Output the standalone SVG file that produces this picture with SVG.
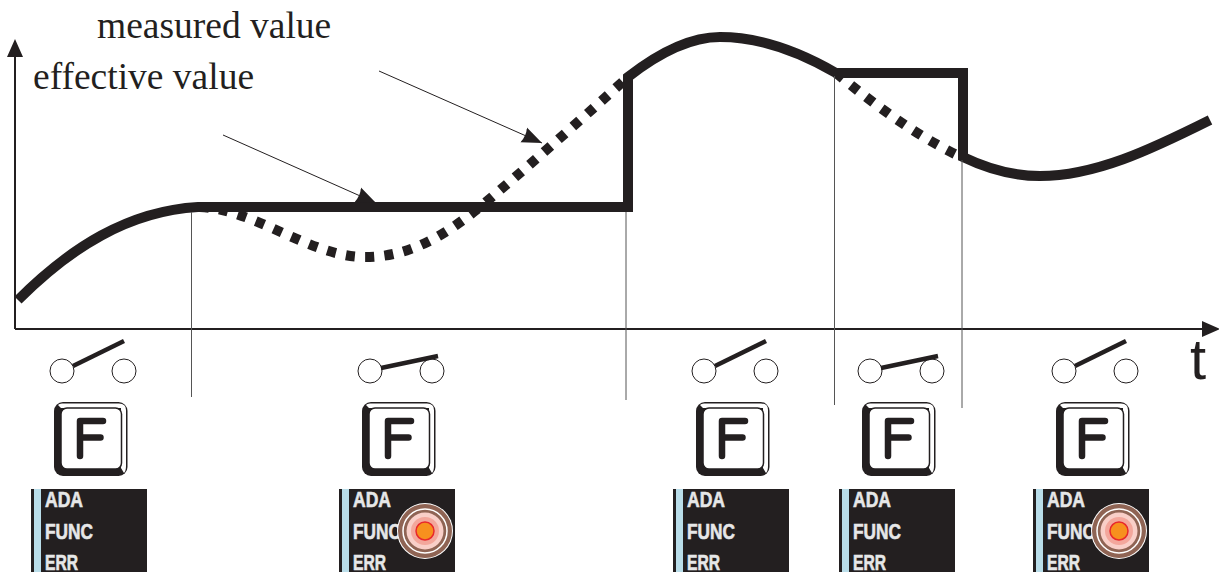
<svg xmlns="http://www.w3.org/2000/svg" xmlns:xlink="http://www.w3.org/1999/xlink" width="1219" height="572" viewBox="0 0 1219 572">
<style>
.lbl{font-family:"Liberation Serif","Times New Roman",serif;font-size:37.500px;fill:#231f20}
.tt{font-family:"Liberation Sans",Arial,sans-serif;font-size:58px;fill:#231f20}
.pt{font-family:"Liberation Sans",Arial,sans-serif;font-size:22px;font-weight:bold;fill:#e6e7e8;stroke:#e6e7e8;stroke-width:.6}
.thick{fill:none;stroke:#231f20;stroke-width:10}
.dot{fill:none;stroke:#231f20;stroke-width:10;stroke-dasharray:9 10.300}
.thin{fill:none;stroke:#231f20;stroke-width:1}
.guide{fill:none;stroke:#555;stroke-width:1}
.axis{fill:none;stroke:#231f20;stroke-width:2}
.c{fill:#fff;stroke:#231f20;stroke-width:1}
.lev{stroke:#231f20;stroke-width:4.500;fill:none}
</style>
<defs>
<marker id="ah" markerUnits="userSpaceOnUse" markerWidth="22" markerHeight="18" refX="20" refY="9" orient="auto"><path d="M0 1 L20 9 L0 17 Q3 9 0 1Z" fill="#231f20"/></marker>
<g id="key">
<rect x="54" y="402" width="73.500" height="74" rx="9" fill="#231f20"/>
<path d="M58 405 L61 408 H121 V468 L124 473 Q126 471 126 466 L126 410 Q126 403.500 119 403.500 L62 403.500 Q59 403.500 58 405Z" fill="#fff"/>
<rect x="61" y="408" width="60.500" height="61" rx="6" fill="#fff" stroke="#231f20" stroke-width="1.500"/>
<path d="M80 456 V421 H103 M80 437.500 H100.500" fill="none" stroke="#231f20" stroke-width="6.500" stroke-linecap="round" stroke-linejoin="round"/>
</g>
<g id="panel">
<rect x="31" y="489" width="116" height="83" fill="#231f20"/>
<rect x="34" y="489" width="7" height="83" fill="#b9dde9"/>
<text class="pt" x="45" y="507" textLength="38" lengthAdjust="spacingAndGlyphs">ADA</text>
<text class="pt" x="45" y="539" textLength="48" lengthAdjust="spacingAndGlyphs">FUNC</text>
<text class="pt" x="45" y="570" textLength="33" lengthAdjust="spacingAndGlyphs">ERR</text>
</g>
<g id="open"><circle class="c" cx="62" cy="371" r="12"/><circle class="c" cx="124" cy="371" r="12"/><path class="lev" d="M73 366 L124 341"/></g>
<g id="closed"><circle class="c" cx="62" cy="371" r="12"/><circle class="c" cx="124" cy="371" r="12"/><path class="lev" d="M73 368 L130 356"/></g>
<g id="led">
<circle cx="0" cy="0" r="28" fill="#fff"/>
<circle cx="0" cy="0" r="27" fill="#8f6454"/>
<circle cx="0" cy="0" r="22" fill="none" stroke="#fff" stroke-width="1.500"/>
<circle cx="0" cy="0" r="18.500" fill="#f9cfc8"/>
<circle cx="0" cy="0" r="14" fill="#f3a79c"/>
<circle cx="0" cy="0" r="9" fill="#f7901e" stroke="#e8282b" stroke-width="1.500"/>
</g>
</defs>
<g id="connectors">
<path class="dot" d="M200 207 C255 209 310 257 365 257 C410 257 445 235 480 207 C530 165 575 125 628 77"/>
<path class="dot" d="M836 73 C875 105 915 135 961 157"/>
<path class="thick" d="M18 300 C70 248 128 211 198 207 H628 V77 C660 52 690 37 720 37 C765 37 805 55 836 73 H963 V157 C990 170 1015 176 1040 176 C1095 176 1150 150 1210 120"/>
<path class="axis" d="M15 329 V50 M15 329 H1205"/>
<path d="M15 39 L23 57 H7Z M1220 329 L1202 337 V321Z" fill="#231f20"/>
<path class="thin" d="M223 135 L376 203" marker-end="url(#ah)"/>
<path class="thin" d="M379 71 L542 143" marker-end="url(#ah)"/>
<path class="guide" d="M191.500 212 V397 M626 212 V400 M834.500 76 V405 M962 160 V408"/>
</g>
<g id="labels">
<text class="lbl" x="97" y="38">measured value</text>
<text class="lbl" x="33" y="89">effective value</text>
<text class="tt" x="1190" y="379">t</text>
</g>
<g id="stage1"><use xlink:href="#open"/><use xlink:href="#key"/><use xlink:href="#panel"/></g>
<g id="stage2" transform="translate(308 0)"><use xlink:href="#closed"/><use xlink:href="#key"/><use xlink:href="#panel"/><use xlink:href="#led" x="117" y="531"/></g>
<g id="stage3" transform="translate(642 0)"><use xlink:href="#open"/><use xlink:href="#key"/><use xlink:href="#panel"/></g>
<g id="stage4" transform="translate(808 0)"><use xlink:href="#closed"/><use xlink:href="#key"/><use xlink:href="#panel"/></g>
<g id="stage5" transform="translate(1002 0)"><use xlink:href="#open"/><use xlink:href="#key"/><use xlink:href="#panel"/><use xlink:href="#led" x="117" y="531"/></g>
</svg>
